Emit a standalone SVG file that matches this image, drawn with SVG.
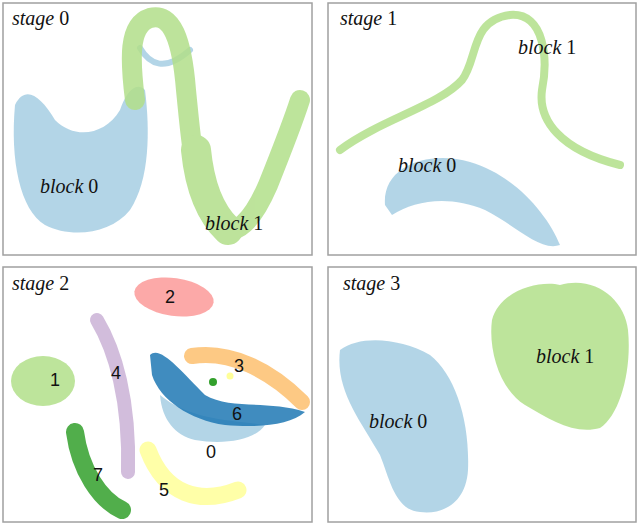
<svg xmlns="http://www.w3.org/2000/svg" width="640" height="527" viewBox="0 0 640 527">
<style>
.p{fill:#fff;stroke:#a0a0a0;stroke-width:1.5}
.s{fill:none;stroke-linecap:round;stroke-linejoin:round}
.f{opacity:.85}
.lb{fill:#a6cee3}.lg{fill:#b2df8a}
text{font-family:"Liberation Serif",serif;font-size:20px;fill:#111}
.i{font-style:italic}
.n{font-family:"Liberation Sans",sans-serif;font-size:18px}
</style>
<rect width="640" height="527" fill="#fff"/>
<rect class="p" x="3" y="3" width="309" height="252"/>
<rect class="p" x="328" y="3" width="308" height="252"/>
<rect class="p" x="3" y="267" width="309" height="255"/>
<rect class="p" x="328" y="267" width="308" height="255"/>
<g id="stage0">
<path class="f lb" d="M15,105 C25,85 40,95 55,120 C75,140 105,135 120,110 C125,95 135,80 145,90 C150,130 150,180 130,210 C110,235 70,238 45,225 C20,210 10,160 15,105 Z"/>
<path class="s f" d="M140,48 C150,65 165,72 190,50" stroke="#a6cee3" stroke-width="6"/>
<g opacity="0.85">
<path class="s" d="M135,100 C130,60 128,25 150,18 C172,12 182,40 186,90 C192,150 195,195 215,222 C235,245 255,215 268,185 C280,155 292,125 300,100" stroke="#b2df8a" stroke-width="20"/>
<path class="s" d="M196,150 C200,190 212,215 228,230" stroke="#b2df8a" stroke-width="30"/>
</g>
<text x="40" y="193" class="i">block <tspan font-style="normal">0</tspan></text>
<text x="205" y="230" class="i">block <tspan font-style="normal">1</tspan></text>
<text x="12" y="25" class="i">stage <tspan font-style="normal">0</tspan></text>
</g>
<g id="stage1">
<path class="s f" d="M340,150 C380,120 440,105 462,80 C478,60 470,20 510,15 C545,12 548,60 542,90 C538,120 560,150 620,165" stroke="#b2df8a" stroke-width="8"/>
<path class="f lb" d="M385,205 C382,165 430,150 470,162 C515,175 548,215 560,245 C540,252 515,225 485,210 C450,195 415,200 392,215 Z"/>
<text x="398" y="172" class="i">block <tspan font-style="normal">0</tspan></text>
<text x="518" y="54" class="i">block <tspan font-style="normal">1</tspan></text>
<text x="340" y="25" class="i">stage <tspan font-style="normal">1</tspan></text>
</g>
<g id="stage2">
<ellipse class="f lg" cx="43" cy="381" rx="32" ry="25"/>
<ellipse class="f" cx="174" cy="297" rx="40" ry="19" fill="#fb9a99" transform="rotate(8 174 297)"/>
<path class="s f" d="M192,356 C230,350 270,370 302,402" stroke="#fdbf6f" stroke-width="16"/>
<path class="s f" d="M97,320 C115,350 130,400 128,472" stroke="#cab2d6" stroke-width="14"/>
<path class="f lb" d="M160,395 C190,420 230,420 265,425 C255,440 225,445 195,440 C175,435 162,420 160,395 Z"/>
<path class="f" fill="#1f78b4" d="M150,355 C160,345 180,370 205,395 C230,410 270,400 305,412 C290,425 260,428 225,425 C190,420 160,400 152,375 Z"/>
<path class="s f" d="M75,432 C80,470 100,500 122,510" stroke="#33a02c" stroke-width="18"/>
<path class="s f" d="M148,450 C165,495 200,505 238,490" stroke="#ffff99" stroke-width="17"/>
<circle cx="213" cy="382" r="4" fill="#33a02c"/>
<circle cx="230" cy="376" r="3.5" fill="#ffff99"/>
<text x="165" y="303" class="n">2</text>
<text x="234" y="372" class="n">3</text>
<text x="50" y="386" class="n">1</text>
<text x="111" y="379" class="n">4</text>
<text x="232" y="420" class="n">6</text>
<text x="206" y="458" class="n">0</text>
<text x="93" y="481" class="n">7</text>
<text x="159" y="496" class="n">5</text>
<text x="12" y="290" class="i">stage <tspan font-style="normal">2</tspan></text>
</g>
<g id="stage3">
<path class="f lb" d="M340,350 C360,335 400,338 430,355 C455,375 470,420 468,470 C466,505 440,515 420,512 C395,510 390,480 380,455 C360,420 335,390 340,350 Z"/>
<path class="f lg" d="M492,320 C500,290 540,280 560,285 C595,275 625,300 628,330 C632,370 620,415 600,428 C575,435 550,420 525,405 C500,390 488,350 492,320 Z"/>
<text x="536" y="363" class="i">block <tspan font-style="normal">1</tspan></text>
<text x="369" y="428" class="i">block <tspan font-style="normal">0</tspan></text>
<text x="343" y="290" class="i">stage <tspan font-style="normal">3</tspan></text>
</g>
</svg>
